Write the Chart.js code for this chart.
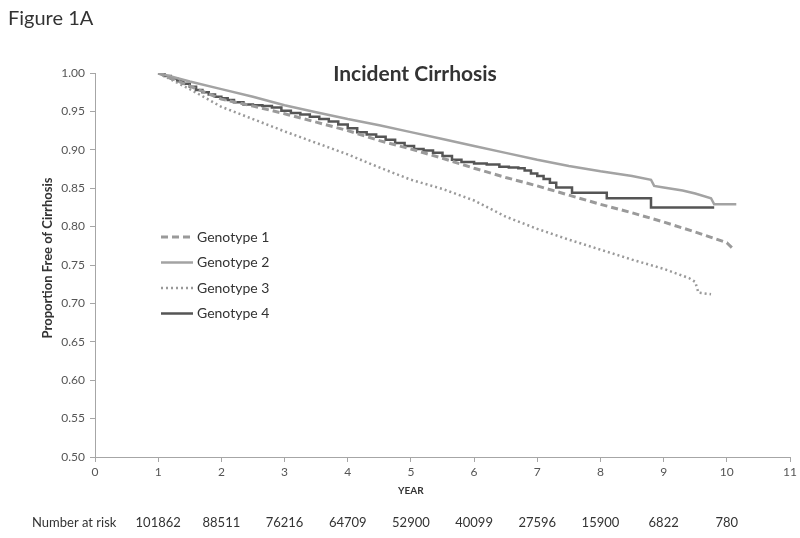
<!DOCTYPE html>
<html>
<head>
<meta charset="utf-8">
<script src="https://cdn.jsdelivr.net/npm/chart.js@4.4.1/dist/chart.umd.min.js"></script>
<style>
  body { margin: 0; background: #fff; }
  canvas { display: block; }
</style>
</head>
<body>
<canvas id="km" width="800" height="538"></canvas>
<script>
// survival curves (year, proportion free of cirrhosis)
const g1Years = [1, 1.5, 2, 2.5, 3, 3.5, 4, 4.5, 5, 5.5, 6, 6.5, 7, 7.5, 8, 8.5, 9, 9.5, 10, 10.1];
const g1Surv  = [1.00, 0.983, 0.966, 0.957, 0.947, 0.936, 0.925, 0.912, 0.901, 0.889, 0.876, 0.864, 0.853, 0.841, 0.829, 0.818, 0.806, 0.793, 0.779, 0.771];

const g2Years = [1, 1.5, 2, 2.5, 3, 3.5, 4, 4.5, 5, 5.5, 6, 6.5, 7, 7.5, 8, 8.5, 8.8, 8.85, 9, 9.3, 9.5, 9.75, 9.8, 10.15];
const g2Surv  = [1.00, 0.989, 0.979, 0.969, 0.958, 0.949, 0.940, 0.932, 0.923, 0.914, 0.905, 0.896, 0.887, 0.879, 0.872, 0.866, 0.861, 0.853, 0.851, 0.847, 0.843, 0.837, 0.829, 0.829];

const g3Years = [1, 1.5, 2, 2.5, 3, 3.5, 4, 4.5, 5, 5.5, 6, 6.5, 7, 7.5, 8, 8.5, 9, 9.4, 9.5, 9.55, 9.75];
const g3Surv  = [1.00, 0.979, 0.956, 0.940, 0.924, 0.909, 0.894, 0.877, 0.861, 0.849, 0.834, 0.813, 0.797, 0.783, 0.770, 0.757, 0.745, 0.733, 0.728, 0.714, 0.712];

// genotype 4 is a step curve: value holds until the next year listed
const g4Years = [1, 1.1, 1.2, 1.3, 1.4, 1.5, 1.6, 1.7, 1.8, 1.9,
                 2.0, 2.1, 2.2, 2.35, 2.5, 2.65, 2.8, 2.95,
                 3.1, 3.25, 3.4, 3.55, 3.7, 3.85,
                 4.0, 4.15, 4.3, 4.45, 4.6, 4.75, 4.9,
                 5.05, 5.2, 5.35, 5.5, 5.65, 5.8,
                 6.0, 6.2, 6.4, 6.55, 6.7, 6.8, 6.9,
                 7.0, 7.1, 7.2, 7.3, 7.55,
                 8.1, 8.8, 9.8];
const g4Surv  = [1.00, 0.996, 0.993, 0.990, 0.986, 0.982, 0.978, 0.975, 0.972, 0.969,
                 0.967, 0.965, 0.962, 0.959, 0.958, 0.957, 0.955, 0.951,
                 0.948, 0.946, 0.943, 0.940, 0.937, 0.933,
                 0.928, 0.923, 0.920, 0.917, 0.913, 0.909, 0.905,
                 0.901, 0.899, 0.896, 0.892, 0.887, 0.884,
                 0.882, 0.881, 0.878, 0.877, 0.876, 0.873, 0.869,
                 0.866, 0.862, 0.857, 0.851, 0.844,
                 0.837, 0.825, 0.825];

const seriesNames = ['Genotype 1', 'Genotype 2', 'Genotype 3', 'Genotype 4'];
const riskYears = [1, 2, 3, 4, 5, 6, 7, 8, 9, 10];
const atRisk = [101862, 88511, 76216, 64709, 52900, 40099, 27596, 15900, 6822, 780];

const FONT = 'Lato, "Open Sans", sans-serif';

const pts = (xs, ys) => xs.map((x, i) => ({x: x, y: ys[i]}));

const extras = {
    id: 'extras',
    afterDraw(chart) {
        const ctx = chart.ctx;
        const xs = chart.scales.x;
        ctx.save();
        ctx.fillStyle = '#333';
        ctx.textBaseline = 'middle';

        ctx.font = '20px ' + FONT;
        ctx.textAlign = 'left';
        ctx.fillText('Figure 1A', 8, 19);

        ctx.font = 'bold 21px ' + FONT;
        ctx.textAlign = 'center';
        ctx.fillText('Incident Cirrhosis', 415, 74);

        ctx.font = 'bold 10px ' + FONT;
        ctx.fillText('YEAR', xs.getPixelForValue(5), 491);

        ctx.save();
        ctx.translate(48, 258);
        ctx.rotate(-Math.PI / 2);
        ctx.font = 'bold 13px ' + FONT;
        ctx.fillText('Proportion Free of Cirrhosis', 0, 0);
        ctx.restore();

        // number at risk row
        ctx.font = '13px ' + FONT;
        ctx.textAlign = 'left';
        ctx.fillText('Number at risk', 32, 523);
        ctx.textAlign = 'center';
        riskYears.forEach((yr, i) => {
            ctx.fillText(String(atRisk[i]), xs.getPixelForValue(yr), 523);
        });

        // legend
        chart.data.datasets.forEach((ds, i) => {
            const y = 237 + i * 25.5;
            ctx.beginPath();
            ctx.setLineDash(ds.borderDash || []);
            ctx.strokeStyle = ds.borderColor;
            ctx.lineWidth = ds.borderWidth;
            ctx.moveTo(161, y);
            ctx.lineTo(193, y);
            ctx.stroke();
            ctx.setLineDash([]);
            ctx.font = '14px ' + FONT;
            ctx.textAlign = 'left';
            ctx.fillStyle = '#333';
            ctx.fillText(ds.label, 197, y);
        });
        ctx.restore();
    }
};

const config = {
    type: 'line',
    data: {
        datasets: [
            {
                label: seriesNames[0],
                data: pts(g1Years, g1Surv),
                borderColor: '#9a9a9a',
                borderWidth: 3,
                borderDash: [7, 4],
            },
            {
                label: seriesNames[1],
                data: pts(g2Years, g2Surv),
                borderColor: '#a3a3a3',
                borderWidth: 2.5,
            },
            {
                label: seriesNames[2],
                data: pts(g3Years, g3Surv),
                borderColor: '#9a9a9a',
                borderWidth: 2.5,
                borderDash: [2, 3],
            },
            {
                label: seriesNames[3],
                data: pts(g4Years, g4Surv),
                borderColor: '#555555',
                borderWidth: 2.5,
                stepped: 'before',
            },
        ]
    },
    options: {
        responsive: false,
        animation: false,
        layout: { padding: { top: 73, right: 10, left: 0, bottom: 0 } },
        elements: { point: { radius: 0 }, line: { tension: 0 } },
        plugins: { legend: { display: false }, tooltip: { enabled: false } },
        scales: {
            x: {
                type: 'linear',
                min: 0,
                max: 11,
                afterFit: s => { s.height = 81; },
                border: { color: '#a6a6a6' },
                grid: { drawOnChartArea: false, tickLength: 5, color: '#a6a6a6' },
                ticks: { stepSize: 1, color: '#555', font: { family: FONT, size: 12 }, padding: 3 },
            },
            y: {
                type: 'linear',
                min: 0.5,
                max: 1.0,
                afterFit: s => { s.width = 95; },
                border: { color: '#a6a6a6' },
                grid: { drawOnChartArea: false, tickLength: 5, color: '#a6a6a6' },
                ticks: {
                    stepSize: 0.05,
                    color: '#555',
                    font: { family: FONT, size: 12 },
                    padding: 5,
                    callback: v => v.toFixed(2),
                },
            },
        }
    },
    plugins: [extras]
};

const kmChart = new Chart(document.getElementById('km'), config);
</script>
</body>
</html>
